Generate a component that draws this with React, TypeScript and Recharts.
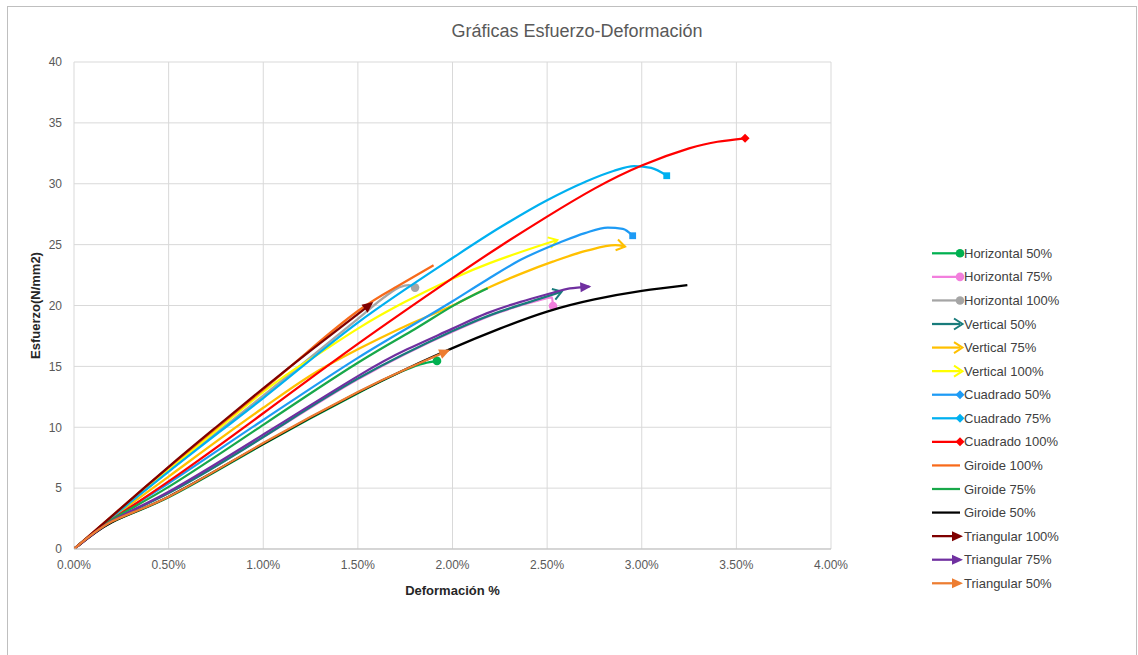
import React from 'react';
import { LineChart, Line, XAxis, YAxis, CartesianGrid } from 'recharts';

const W = 1138;
const H = 655;
const FONT = '"Liberation Sans", Arial, sans-serif';

// Axis ticks (x in %, y in N/mm2)
const xTicks = [0, 0.5, 1, 1.5, 2, 2.5, 3, 3.5, 4];
const yTicks = [0, 5, 10, 15, 20, 25, 30, 35, 40];

// Series data: [deformation %, stress N/mm2]
const horizontal50 = [[0, 0], [0.2, 2.2], [0.5, 4.25], [1.0, 8.6], [1.5, 12.8], [1.75, 14.7], [1.85, 15.25], [1.918, 15.45]];
const horizontal75 = [[0, 0], [0.2, 2.3], [0.5, 4.6], [1.0, 9.2], [1.5, 13.95], [2.0, 17.85], [2.25, 19.45], [2.45, 20.4], [2.526, 20.67], [2.531, 19.96]];
const horizontal100 = [[0, 0], [0.2, 2.6], [0.5, 6.4], [1.0, 12.6], [1.5, 18.9], [1.65, 20.8], [1.72, 21.5], [1.77, 21.68], [1.802, 21.47]];
const vertical50 = [[0, 0], [0.2, 2.3], [0.5, 4.6], [1.0, 9.2], [1.5, 14.0], [2.0, 17.9], [2.25, 19.5], [2.45, 20.5], [2.577, 21.14]];
const vertical75 = [[0, 0], [0.2, 2.5], [0.5, 5.95], [1.0, 11.6], [1.265, 14.4], [1.5, 16.4], [1.75, 18.3], [2.0, 20.0], [2.18, 21.4], [2.36, 22.6], [2.53, 23.6], [2.71, 24.5], [2.86, 24.95], [2.912, 24.83]];
const vertical100 = [[0, 0], [0.2, 2.6], [0.5, 6.5], [1.0, 12.9], [1.25, 15.6], [1.5, 18.1], [1.75, 20.3], [2.0, 22.2], [2.2, 23.5], [2.4, 24.6], [2.554, 25.38]];
const cuadrado50 = [[0, 0], [0.2, 2.4], [0.5, 5.4], [1.0, 10.6], [1.5, 15.7], [2.0, 20.35], [2.18, 22.1], [2.36, 23.75], [2.57, 25.2], [2.7, 25.95], [2.82, 26.4], [2.9, 26.3], [2.952, 25.73]];
const cuadrado75 = [[0, 0], [0.2, 2.6], [0.5, 6.35], [1.0, 12.4], [1.5, 18.6], [2.0, 23.9], [2.25, 26.4], [2.5, 28.65], [2.7, 30.15], [2.85, 31.05], [2.96, 31.45], [3.05, 31.3], [3.132, 30.66]];
const cuadrado100 = [[0, 0], [0.2, 2.4], [0.5, 5.55], [1.0, 11.15], [1.5, 16.85], [2.0, 22.25], [2.25, 24.85], [2.5, 27.3], [2.75, 29.6], [3.0, 31.5], [3.25, 32.9], [3.4, 33.45], [3.546, 33.73]];
const giroide100 = [[0, 0], [0.2, 2.7], [0.5, 6.7], [1.0, 13.1], [1.25, 16.4], [1.5, 19.55], [1.7, 21.5], [1.9, 23.3]];
const giroide75 = [[0, 0], [0.2, 2.4], [0.5, 5.1], [1.0, 10.2], [1.5, 15.3], [1.8, 18.05], [2.0, 19.95], [2.186, 21.41]];
const giroide50 = [[0, 0], [0.2, 2.2], [0.5, 4.3], [1.0, 8.65], [1.5, 12.85], [1.75, 14.75], [2.0, 16.5], [2.25, 18.1], [2.5, 19.5], [2.75, 20.5], [3.0, 21.2], [3.241, 21.68]];
const triangular100 = [[0, 0], [0.2, 2.7], [0.5, 6.75], [0.75, 10.0], [1.0, 13.2], [1.25, 16.3], [1.573, 20.18]];
const triangular75 = [[0, 0], [0.2, 2.3], [0.5, 4.7], [1.0, 9.4], [1.5, 14.2], [1.76, 16.4], [2.0, 18.1], [2.18, 19.35], [2.36, 20.3], [2.53, 21.05], [2.62, 21.4], [2.723, 21.55]];
const triangular50 = [[0, 0], [0.2, 2.25], [0.5, 4.3], [1.0, 8.7], [1.5, 12.9], [1.75, 14.75], [1.978, 16.3]];

const seriesNames = [
  'Horizontal 50%', 'Horizontal 75%', 'Horizontal 100%',
  'Vertical 50%', 'Vertical 75%', 'Vertical 100%',
  'Cuadrado 50%', 'Cuadrado 75%', 'Cuadrado 100%',
  'Giroide 100%', 'Giroide 75%', 'Giroide 50%',
  'Triangular 100%', 'Triangular 75%', 'Triangular 50%',
];
const seriesColors = [
  '#00B050', '#F27FDD', '#A5A5A5',
  '#187B7B', '#FFC000', '#FFFF00',
  '#1E9BF5', '#00B0F0', '#FF0000',
  '#F86A1A', '#18A84A', '#000000',
  '#7F0000', '#7030A0', '#ED7D31',
];
const seriesMarkers = [
  'circle', 'circle', 'circle',
  'openArrow', 'openArrow', 'openArrow',
  'square', 'square', 'diamond',
  'none', 'none', 'none',
  'closedArrow', 'closedArrow', 'closedArrow',
];
const legendMarkers = [
  'circle', 'circle', 'circle',
  'openArrow', 'openArrow', 'openArrow',
  'diamond', 'diamond', 'diamond',
  'none', 'none', 'none',
  'closedArrow', 'closedArrow', 'closedArrow',
];
const seriesCurves = [
  'natural', 'monotone', 'monotone',
  'natural', 'monotone', 'natural',
  'monotone', 'monotone', 'natural',
  'natural', 'natural', 'natural',
  'natural', 'natural', 'natural',
];
const seriesData = [
  horizontal50, horizontal75, horizontal100,
  vertical50, vertical75, vertical100,
  cuadrado50, cuadrado75, cuadrado100,
  giroide100, giroide75, giroide50,
  triangular100, triangular75, triangular50,
];

const series = seriesNames.map((name, i) => ({
  name,
  color: seriesColors[i],
  marker: seriesMarkers[i],
  legendMarker: legendMarkers[i],
  curve: seriesCurves[i],
  data: seriesData[i].map(([x, y]) => ({ x, y })),
}));

function markerDef(id: string, kind: string, color: string) {
  const common = { id, markerUnits: 'userSpaceOnUse', overflow: 'visible' } as any;
  if (kind === 'circle') {
    return (
      <marker key={id} {...common} markerWidth={12} markerHeight={12} refX={6} refY={6} orient="0">
        <circle cx={6} cy={6} r={4.3} fill={color} />
      </marker>
    );
  }
  if (kind === 'square') {
    return (
      <marker key={id} {...common} markerWidth={12} markerHeight={12} refX={6} refY={6} orient="0">
        <rect x={2.6} y={2.6} width={6.8} height={6.8} fill={color} />
      </marker>
    );
  }
  if (kind === 'diamond') {
    return (
      <marker key={id} {...common} markerWidth={12} markerHeight={12} refX={6} refY={6} orient="0">
        <polygon points="6,1.5 10.5,6 6,10.5 1.5,6" fill={color} />
      </marker>
    );
  }
  if (kind === 'openArrow') {
    return (
      <marker key={id} {...common} markerWidth={16} markerHeight={16} refX={12} refY={8} orient="auto">
        <path d="M3.5,2.5 L12,8 L3.5,13.5" fill="none" stroke={color} strokeWidth={2} strokeLinejoin="miter" />
      </marker>
    );
  }
  if (kind === 'closedArrow') {
    return (
      <marker key={id} {...common} markerWidth={16} markerHeight={16} refX={10} refY={8} orient="auto">
        <path d="M1,3 L12,8 L1,13 Z" fill={color} />
      </marker>
    );
  }
  return null;
}

function LegendMarker({ kind, color, x, y }: { kind: string; color: string; x: number; y: number }) {
  if (kind === 'circle') return <circle cx={x} cy={y} r={4.3} fill={color} />;
  if (kind === 'diamond') return <polygon points={`${x},${y - 4.5} ${x + 4.5},${y} ${x},${y + 4.5} ${x - 4.5},${y}`} fill={color} />;
  if (kind === 'openArrow')
    return <path d={`M${x - 6},${y - 5.5} L${x + 2.5},${y} L${x - 6},${y + 5.5}`} fill="none" stroke={color} strokeWidth={2} />;
  if (kind === 'closedArrow')
    return <path d={`M${x - 8},${y - 5} L${x + 3},${y} L${x - 8},${y + 5} Z`} fill={color} />;
  return null;
}

const YLabel = (props: any) => {
  const vb = props.viewBox || { x: 34, y: 62, width: 40, height: 487 };
  const cx = vb.x + 1;
  const cy = vb.y + vb.height / 2;
  return (
    <text
      x={cx}
      y={cy}
      transform={`rotate(-90, ${cx}, ${cy})`}
      textAnchor="middle"
      dominantBaseline="central"
      fontFamily={FONT}
      fontSize={13}
      fontWeight="bold"
      fill="#262626"
    >
      Esfuerzo(N/mm2)
    </text>
  );
};

export default function App() {
  const legendTop = 253.3;
  const legendStep = 23.57;
  return (
    <div style={{ position: 'absolute', left: 0, top: 0, width: W, height: H, background: '#fff', overflow: 'hidden' }}>
      <LineChart width={W} height={H} margin={{ top: 62, right: 307, bottom: 56, left: 34 }}>
        <defs>{series.map((s, i) => markerDef(`m-${i}`, s.marker, s.color))}</defs>
        <CartesianGrid stroke="#D9D9D9" strokeWidth={1} horizontalValues={yTicks} verticalValues={xTicks} />
        <XAxis
          dataKey="x"
          type="number"
          domain={[0, 4]}
          ticks={xTicks}
          interval={0}
          tickFormatter={(v: number) => v.toFixed(2) + '%'}
          tick={{ fill: '#595959', fontSize: 12, fontFamily: FONT }}
          tickLine={false}
          tickSize={0}
          tickMargin={11}
          axisLine={{ stroke: '#BFBFBF', strokeWidth: 1 }}
          height={50}
          allowDataOverflow
          label={{ value: 'Deformación %', position: 'insideBottom', offset: 4, fill: '#262626', fontSize: 13, fontWeight: 'bold', fontFamily: FONT }}
        />
        <YAxis
          dataKey="y"
          type="number"
          domain={[0, 40]}
          ticks={yTicks}
          interval={0}
          tick={{ fill: '#595959', fontSize: 12, fontFamily: FONT }}
          tickLine={false}
          tickSize={0}
          tickMargin={12}
          axisLine={false}
          width={40}
          allowDataOverflow
          label={{ content: YLabel }}
        />
        {series.map((s, i) => (
          <Line
            key={s.name}
            name={s.name}
            data={s.data}
            dataKey="y"
            type={s.curve as any}
            stroke={s.color}
            strokeWidth={2.25}
            dot={false}
            activeDot={false}
            isAnimationActive={false}
            markerEnd={s.marker === 'none' ? undefined : `url(#m-${i})`}
          />
        ))}
      </LineChart>
      <svg width={W} height={H} style={{ position: 'absolute', left: 0, top: 0, pointerEvents: 'none' }}>
        <rect x={7.5} y={6.5} width={1129} height={700} fill="none" stroke="#BFBFBF" strokeWidth={1} />
        <text x={577} y={31} textAnchor="middle" dominantBaseline="central" fontFamily={FONT} fontSize={18} fill="#595959">
          Gráficas Esfuerzo-Deformación
        </text>
        {series.map((s, i) => {
          const y = legendTop + i * legendStep;
          return (
            <g key={s.name}>
              <line x1={932} x2={960} y1={y} y2={y} stroke={s.color} strokeWidth={2.25} />
              <LegendMarker kind={s.legendMarker} color={s.color} x={960} y={y} />
              <text x={964} y={y} dominantBaseline="central" fontFamily={FONT} fontSize={13} fill="#404040">
                {s.name}
              </text>
            </g>
          );
        })}
      </svg>
    </div>
  );
}
